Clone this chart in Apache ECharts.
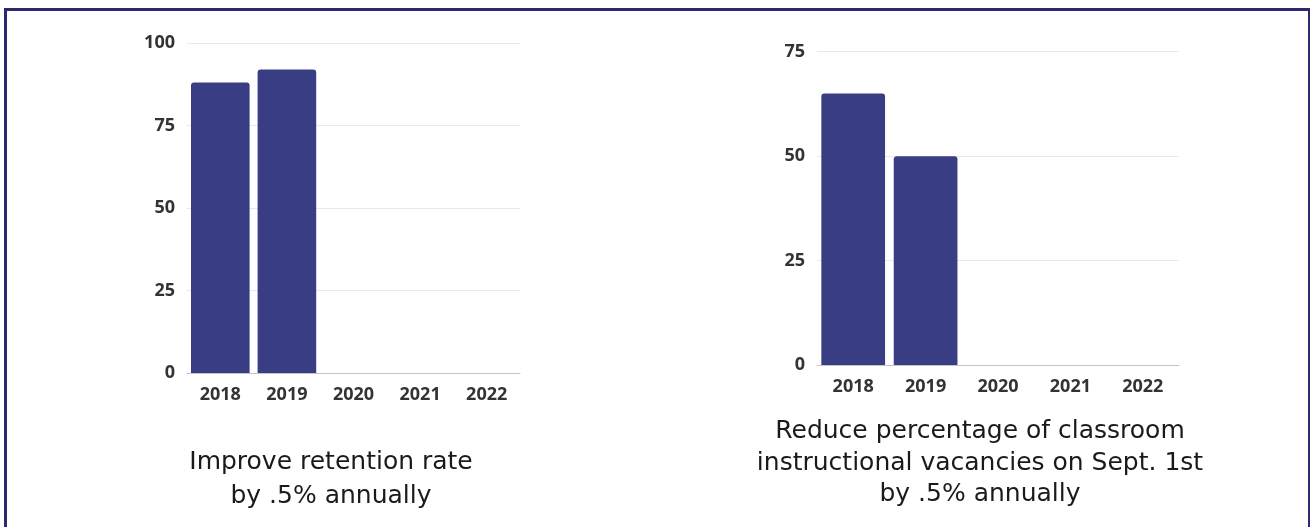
<!DOCTYPE html>
<html>
<head>
<meta charset="utf-8">
<script src="https://cdn.jsdelivr.net/npm/echarts@6/dist/echarts.min.js"></script>
<style>
html,body{margin:0;padding:0;background:#fff;}
#c{width:1310px;height:527px;}
</style>
</head>
<body>
<div id="c"></div>
<script>
const categories = ['2018', '2019', '2020', '2021', '2022'];
const retentionValues = [88, 92, null, null, null];
const vacancyValues = [65, 50, null, null, null];
const retentionTicks = [0, 25, 50, 75, 100];
const vacancyTicks = [0, 25, 50, 75];
const retentionTitle = 'Improve retention rate\nby .5% annually';
const vacancyTitle = 'Reduce percentage of classroom\ninstructional vacancies on Sept. 1st\nby .5% annually';

const barColor = '#383d84';
const labelStyle = { color: '#333', fontFamily: 'Open Sans', fontWeight: 'bold', fontSize: 18 };

function xAxis(gi) {
  return {
    type: 'category', gridIndex: gi, data: categories,
    axisTick: { show: false },
    axisLine: { lineStyle: { color: '#c4c4c4', width: 1 } },
    axisLabel: Object.assign({ margin: 13 }, labelStyle)
  };
}
function yAxis(gi, ticks) {
  return {
    type: 'value', gridIndex: gi, min: ticks[0], max: ticks[ticks.length - 1], interval: ticks[1] - ticks[0],
    axisLine: { show: false }, axisTick: { show: false },
    splitLine: { lineStyle: { color: '#e9e9e9', width: 1 } },
    axisLabel: Object.assign({ margin: 12 }, labelStyle)
  };
}

const chart = echarts.init(document.getElementById('c'), null, { renderer: 'canvas' });
chart.setOption({
  animation: false,
  backgroundColor: '#fff',
  grid: [
    { left: 187, right: 790, top: 43, bottom: 154 },
    { left: 817, right: 131, top: 51.7, bottom: 162 }
  ],
  xAxis: [xAxis(0), xAxis(1)],
  yAxis: [yAxis(0, retentionTicks), yAxis(1, vacancyTicks)],
  series: [
    { type: 'bar', xAxisIndex: 0, yAxisIndex: 0, data: retentionValues, barCategoryGap: '12%',
      itemStyle: { color: barColor, borderRadius: [3, 3, 0, 0] } },
    { type: 'bar', xAxisIndex: 1, yAxisIndex: 1, data: vacancyValues, barCategoryGap: '12%',
      itemStyle: { color: barColor, borderRadius: [3, 3, 0, 0] } }
  ],
  title: [
    { text: retentionTitle, left: 326, top: 440, textAlign: 'center',
      textStyle: { fontFamily: 'DejaVu Sans', fontWeight: 'normal', fontSize: 25, color: '#1a1a1a', lineHeight: 34 } },
    { text: vacancyTitle, left: 975, top: 411, textAlign: 'center',
      textStyle: { fontFamily: 'DejaVu Sans', fontWeight: 'normal', fontSize: 25, color: '#1a1a1a', lineHeight: 31.5 } }
  ],
  graphic: [
    { type: 'polyline', shape: { points: [[5.5, 530], [5.5, 9.5], [1309.5, 9.5], [1309.5, 530]] },
      style: { stroke: '#2b2a6e', lineWidth: 3, fill: null } }
  ]
});
</script>
</body>
</html>
